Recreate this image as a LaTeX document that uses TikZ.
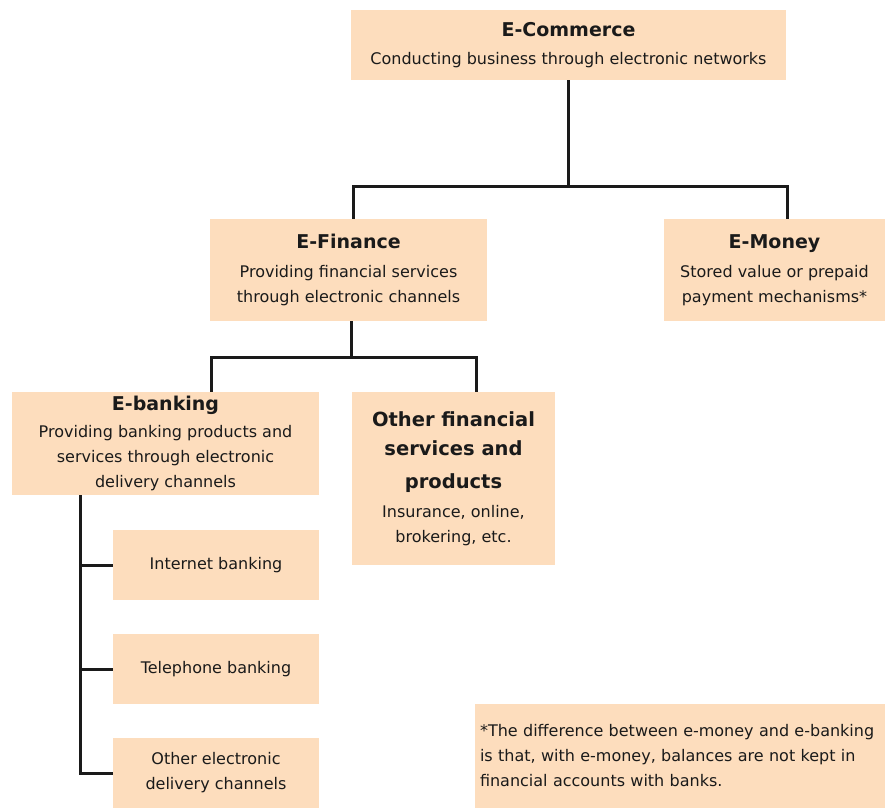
\documentclass[tikz,border=0pt]{standalone}
\usepackage{fontspec}
\setmainfont{DejaVu Sans}
\usetikzlibrary{positioning,calc}
\definecolor{ink}{HTML}{1A1A1A}
\definecolor{peach}{HTML}{FDDDBD}
\newcommand{\hd}[1]{{\fontsize{19}{24}\selectfont\bfseries #1}}
\newcommand{\bighd}[1]{{\fontsize{19.5}{31}\selectfont\bfseries #1}}

\begin{document}
\begin{tikzpicture}[x=1pt, y=-1pt,
  box/.style={fill=peach, draw=none, align=center, inner sep=0pt, text=ink, font=\fontsize{16}{25}\selectfont},
  link/.style={draw=ink, line width=3pt},
]
\useasboundingbox (0,0) rectangle (885,808);
% top level
\node[box, minimum width=435pt, minimum height=70pt] (ecom) at (568.5,45)
  {\hd{E-Commerce}\\[3pt]Conducting business through electronic networks};
\node[box, minimum width=277pt, minimum height=102pt] (efin) at (348.5,270)
  {\hd{E-Finance}\\[4pt]Providing financial services\\through electronic channels};
\node[box, minimum width=221pt, minimum height=102pt] (emon) at (774.5,270)
  {\hd{E-Money}\\[4pt]Stored value or prepaid\\payment mechanisms*};
% second level
\node[box, minimum width=307pt, minimum height=103pt] (ebank) at (165.5,443.5)
  {\hd{E-banking}\\[2pt]Providing banking products and\\services through electronic\\delivery channels};
\node[box, minimum width=203pt, minimum height=173pt] (ofin) at (453.5,478.5)
  {\bighd{Other financial}\\[4pt]\bighd{services and}\\[8pt]\bighd{products}\\[4pt]Insurance, online,\\brokering, etc.};
% channels
\node[box, minimum width=206pt, minimum height=70pt] (inet) at (216,565) {Internet banking};
\node[box, minimum width=206pt, minimum height=70pt] (tele) at (216,669) {Telephone banking};
\node[box, minimum width=206pt, minimum height=70pt] (oelec) at (216,773) {Other electronic\\delivery channels};
\node[box, minimum width=410pt, minimum height=104pt, align=left, text width=400pt] (note) at (680,756)
  {*The difference between e-money and e-banking\\is that, with e-money, balances are not kept in\\financial accounts with banks.};

\draw[link] (ecom.south) -- ++(0,106) coordinate (j1);
\draw[link] ($(efin.north)+(4.5,0)$) |- (j1) -| ($(emon.north)+(12.5,0)$);
\draw[link] ($(efin.south)+(2.5,0)$) -- ++(0,36) coordinate (j2);
\draw[link] ($(ebank.north)+(45.5,0)$) |- (j2) -| ($(ofin.north)+(22.5,0)$);
\draw[link] ($(ebank.south west)+(69,0)$) coordinate (spine) -- (spine |- oelec.west) -- (oelec.west);
\draw[link] (spine |- inet.west) -- (inet.west);
\draw[link] (spine |- tele.west) -- (tele.west);
\end{tikzpicture}
\end{document}
